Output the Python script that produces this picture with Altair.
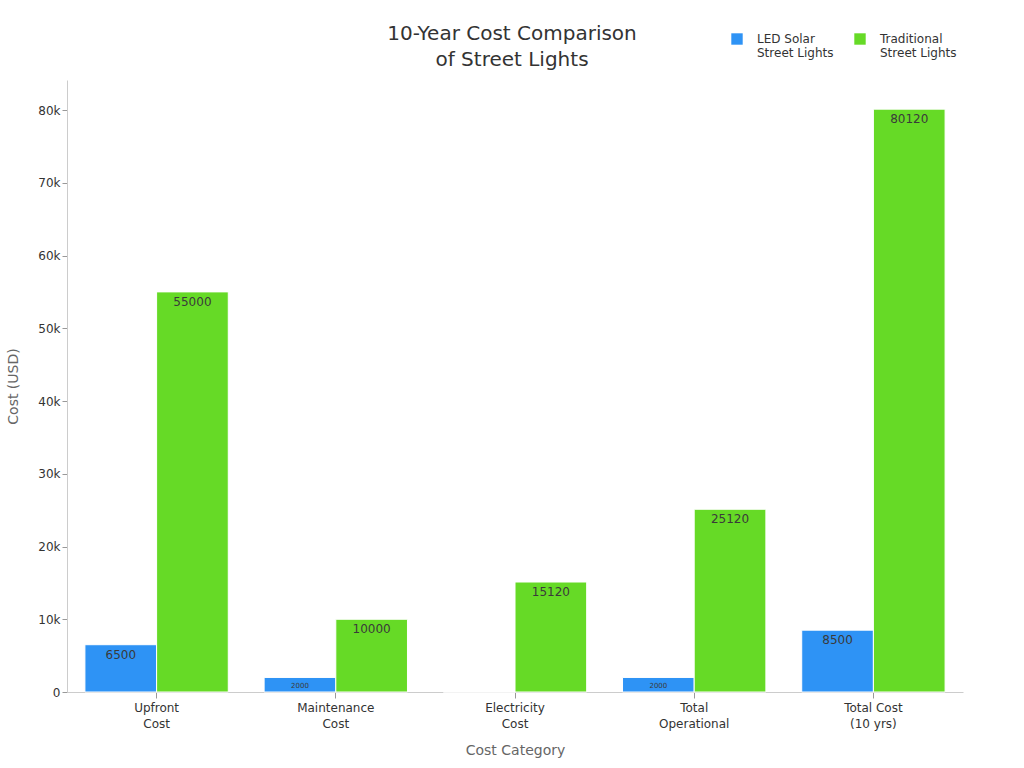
import altair as alt
import pandas as pd

categories = ["Upfront|Cost", "Maintenance|Cost", "Electricity|Cost", "Total|Operational", "Total Cost|(10 yrs)"]
led_values = [6500, 2000, 0, 2000, 8500]
trad_values = [55000, 10000, 15120, 25120, 80120]
series = ["LED Solar|Street Lights", "Traditional|Street Lights"]
colors = ["#2E93F5", "#66DA26"]
y_ticks = [0, 10000, 20000, 30000, 40000, 50000, 60000, 70000, 80000]

rows = []
for c, a, b in zip(categories, led_values, trad_values):
    rows.append({"category": c, "series": series[0], "value": a})
    rows.append({"category": c, "series": series[1], "value": b})
df = pd.DataFrame(rows)

FONT = "DejaVu Sans"

x = alt.X("category:N", sort=categories, title="Cost Category",
          scale=alt.Scale(paddingInner=0.2, paddingOuter=0.1),
          axis=alt.Axis(labelExpr="split(datum.label, '|')", labelAngle=0,
                        labelFontSize=12, labelColor="#333", labelLineHeight=16,
                        labelPadding=4,
                        titleFontSize=14, titleColor="#666", titleFontWeight="normal",
                        titlePadding=14, domainColor="#ccc", tickColor="#999", tickSize=6))
y = alt.Y("value:Q", title="Cost (USD)",
          scale=alt.Scale(domain=[0, 84126], nice=False),
          axis=alt.Axis(values=y_ticks,
                        labelExpr="datum.value == 0 ? '0' : format(datum.value / 1000, 'd') + 'k'",
                        grid=False, labelFontSize=12, labelColor="#333",
                        titleFontSize=14, titleColor="#666", titleFontWeight="normal",
                        titlePadding=17, domainColor="#ccc", tickColor="#999", tickSize=5))
xo = alt.XOffset("series:N", sort=series)

bars = alt.Chart(df).mark_bar(stroke="white", strokeWidth=1).encode(
    x=x, y=y, xOffset=xo,
    color=alt.Color("series:N", sort=series, scale=alt.Scale(domain=series, range=colors),
                    legend=alt.Legend(title=None, orient="none", legendX=664, legendY=-47,
                                      direction="horizontal", symbolType="square", symbolSize=130,
                                      labelExpr="split(datum.label, '|')", labelFontSize=12,
                                      labelColor="#333", columnPadding=20,
                                      symbolStrokeWidth=0, labelOffset=14))
)

labels = alt.Chart(df).transform_filter("datum.value > 0").mark_text(
    baseline="top", dy=5, color="#3a3a3a", font=FONT
).encode(
    x=alt.X("category:N", sort=categories), y="value:Q", xOffset=xo,
    text="value:Q",
    size=alt.condition("datum.value < 5000", alt.value(7), alt.value(12)),
)

chart = alt.layer(bars, labels).properties(
    width=896, height=612,
    title=alt.TitleParams(text=["10-Year Cost Comparison", "of Street Lights"],
                          fontSize=20, font=FONT, fontWeight="normal", color="#333",
                          anchor="middle", lineHeight=26, offset=12, dy=49, dx=-3),
    autosize=alt.AutoSizeParams(type="none"),
    padding={"left": 67, "top": 80, "right": 61, "bottom": 76},
).configure(font=FONT).configure_view(stroke=None)

chart.save("out.html", embed_options={"renderer": "svg", "actions": False})
